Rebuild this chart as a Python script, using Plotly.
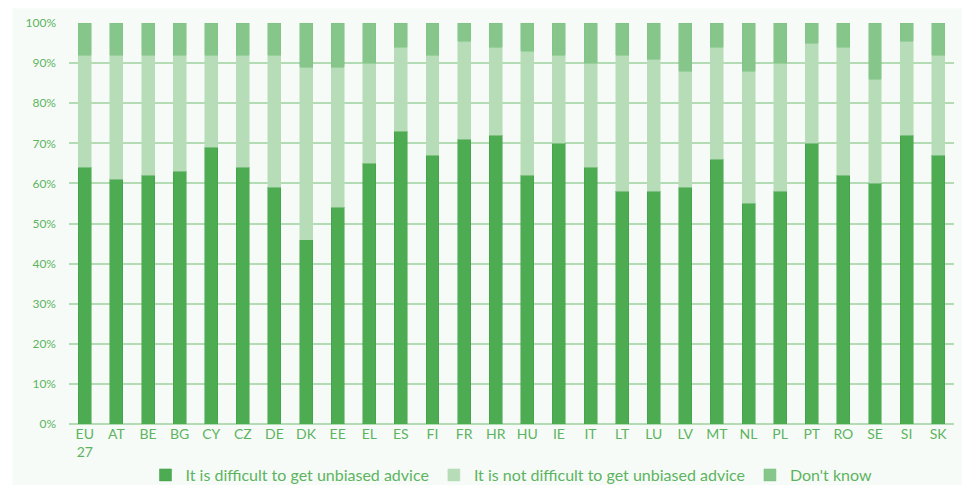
import plotly.graph_objects as go

countries = ["EU<br>27", "AT", "BE", "BG", "CY", "CZ", "DE", "DK", "EE", "EL", "ES", "FI", "FR", "HR",
             "HU", "IE", "IT", "LT", "LU", "LV", "MT", "NL", "PL", "PT", "RO", "SE", "SI", "SK"]
difficult = [64, 61, 62, 63, 69, 64, 59, 46, 54, 65, 73, 67, 71, 72,
             62, 70, 64, 58, 58, 59, 66, 55, 58, 70, 62, 60, 72, 67]
not_difficult = [28, 31, 30, 29, 23, 28, 33, 43, 35, 25, 21, 25, 24.5, 22,
                 31, 22, 26, 34, 33, 29, 28, 33, 32, 25, 32, 26, 23.5, 25]
dont_know = [8, 8, 8, 8, 8, 8, 8, 11, 11, 10, 6, 8, 4.5, 6,
             7, 8, 10, 8, 9, 12, 6, 12, 10, 5, 6, 14, 4.5, 8]
series_names = ["It is difficult to get unbiased advice",
                "It is not difficult to get unbiased advice",
                "Don't know"]
colors = ["#4dab52", "#b7ddb8", "#86c68a"]
lines = ["#3f9f45", "#b7ddb8", "#7cc181"]

fig = go.Figure()
for name, vals, c, lc in zip(series_names, [difficult, not_difficult, dont_know], colors, lines):
    fig.add_trace(go.Bar(x=countries, y=vals, name=name, marker=dict(color=c, line=dict(color=lc, width=0.5))))

fig.update_layout(
    barmode="stack",
    bargap=0.59,
    width=968, height=479,
    margin=dict(l=61, r=22, t=15, b=63, autoexpand=False),
    paper_bgcolor="white",
    plot_bgcolor="rgba(0,0,0,0)",
    font=dict(family="Lato, Open Sans, sans-serif", color="#5cb461", size=14),
    legend=dict(orientation="h", x=0.5, xanchor="center", yref="container", y=0.025, yanchor="middle",
                font=dict(size=16, color="#5cb461"), traceorder="normal",
                itemwidth=30, bgcolor="rgba(0,0,0,0)"),
    shapes=[dict(type="rect", xref="paper", yref="paper", x0=-0.064, x1=1.009, y0=-0.152, y1=1.037,
                 fillcolor="#f7fbf7", line=dict(width=0), layer="below")],
    xaxis=dict(showgrid=False, ticks="", tickfont=dict(size=14, color="#5cb461"), showline=False,
               fixedrange=True, automargin=False),
    yaxis=dict(range=[0, 100], dtick=10, ticksuffix="%", gridcolor="#b3dcb5", gridwidth=2,
               zeroline=True, zerolinecolor="#b3dcb5", zerolinewidth=2, automargin=False,
               tickfont=dict(size=12, color="#5cb461"), ticklabelstandoff=12, showline=False),
)
fig.write_html("out.html")
